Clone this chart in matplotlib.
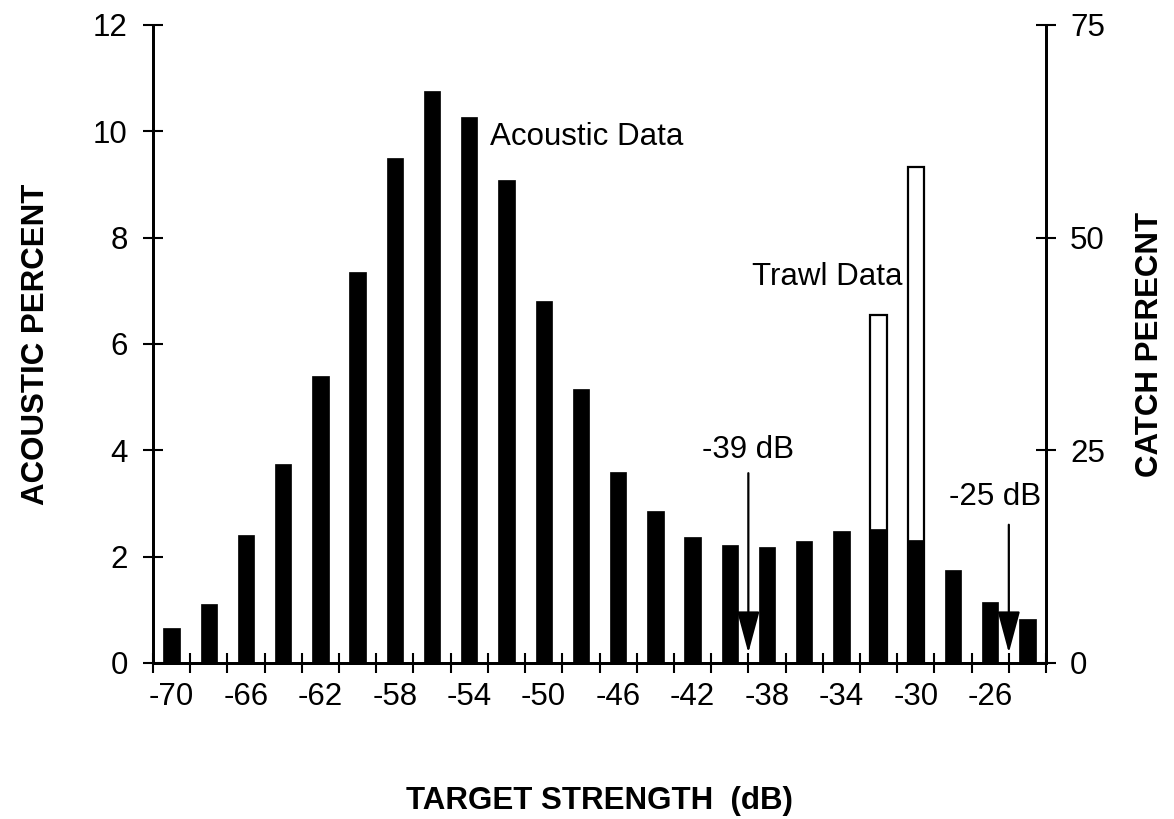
import numpy as np
import matplotlib.pyplot as plt

plt.rcParams['font.family'] = ['Liberation Sans', 'DejaVu Sans']
plt.rcParams['font.size'] = 22.5

# target strength bins (dB), bin centres
ts_bins = [-70, -68, -66, -64, -62, -60, -58, -56, -54, -52, -50, -48,
           -46, -44, -42, -40, -38, -36, -34, -32, -30, -28, -26, -24]
acoustic_pct = [0.66, 1.1, 2.4, 3.75, 5.4, 7.35, 9.5, 10.75, 10.27, 9.08, 6.8, 5.15,
                3.6, 2.86, 2.37, 2.22, 2.18, 2.3, 2.48, 2.52, 2.31, 1.75, 1.15, 0.83]

# trawl catch
trawl_bins = [-32, -30]
catch_pct = [40.9, 58.3]

tick_labels = [-70, -66, -62, -58, -54, -50, -46, -42, -38, -34, -30, -26]

fig = plt.figure(figsize=(11.74, 8.19), dpi=100)
ax = fig.add_axes([0.1303, 0.1905, 0.7607, 0.779])
ax2 = ax.twinx()

# trawl bars sit behind the acoustic bars
ax.set_zorder(ax2.get_zorder() + 1)
ax.patch.set_visible(False)

ax2.bar(trawl_bins, catch_pct, width=0.88, color='white', edgecolor='black', linewidth=1.6)
ax.bar(ts_bins, acoustic_pct, width=0.88, color='black', edgecolor='black', linewidth=0.5)

ax.set_xlim(-71, -23)
ax.set_ylim(0, 12)
ax2.set_ylim(0, 75)

for a in (ax, ax2):
    a.spines['top'].set_visible(False)
    for s in ('left', 'right', 'bottom'):
        a.spines[s].set_linewidth(2)

# ticks at bin edges, labels at bin centres
ax.set_xticks(np.arange(-71, -22, 2))
ax.set_xticklabels([])
ax.set_xticks(tick_labels, minor=True)
ax.set_xticklabels([str(t) for t in tick_labels], minor=True)
ax.tick_params(axis='x', which='major', direction='inout', length=14.4, width=1.5)
ax.tick_params(axis='x', which='minor', length=0, pad=14)

ax.set_yticks([0, 2, 4, 6, 8, 10, 12])
ax.tick_params(axis='y', direction='inout', length=14.4, width=1.5, pad=11)
ax2.set_yticks([0, 25, 50, 75])
ax2.tick_params(axis='y', direction='inout', length=14.4, width=1.5, pad=10)

ax.set_xlabel('TARGET STRENGTH  (dB)', fontweight='bold', labelpad=53)
ax.set_ylabel('ACOUSTIC PERCENT', fontweight='bold', labelpad=30)
ax2.set_ylabel('CATCH PERECNT', fontweight='bold', labelpad=22)

ax.text(-52.88, 9.89, 'Acoustic Data', ha='left', va='center')
ax.text(-30.74, 7.26, 'Trawl Data', ha='right', va='center')
ax.text(-39, 4.0, '-39 dB', ha='center', va='center')
ax.text(-25.76, 3.13, '-25 dB', ha='center', va='center')

arrow = dict(arrowstyle='-|>,head_length=1.3,head_width=0.35', mutation_scale=20,
             color='black', lw=1.6, shrinkA=0, shrinkB=0)
ax.annotate('', xy=(-39, 0.19), xytext=(-39, 3.57), arrowprops=arrow)
ax.annotate('', xy=(-25, 0.19), xytext=(-25, 2.6), arrowprops=arrow)

fig.savefig('out.png', dpi=100)
